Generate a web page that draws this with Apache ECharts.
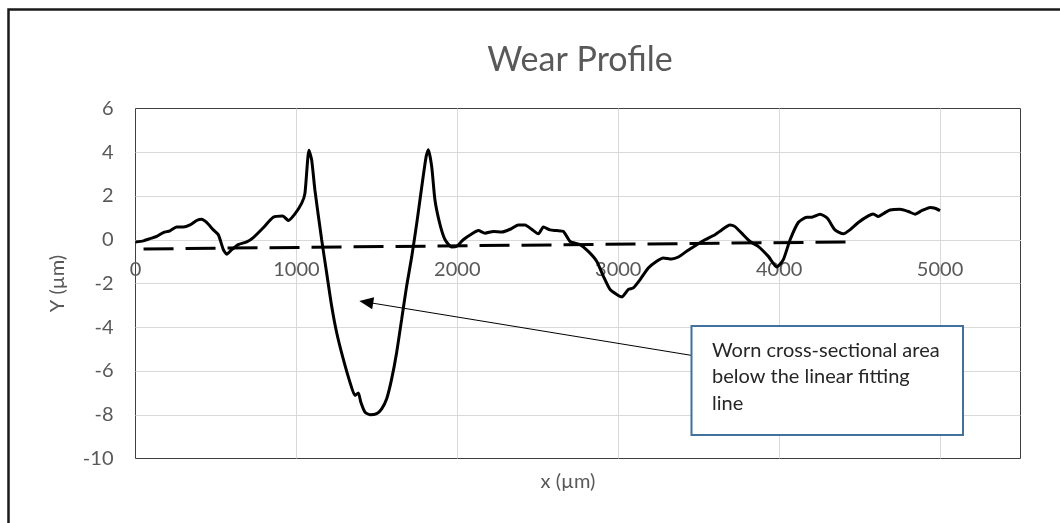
<!DOCTYPE html>
<html>
<head>
<meta charset="utf-8">
<script src="https://cdn.jsdelivr.net/npm/echarts@6/dist/echarts.min.js"></script>
<style>
html,body{margin:0;padding:0;background:#fff;}
#c{width:1060px;height:523px;}
</style>
</head>
<body>
<div id="c"></div>
<script>
// ---- data ----
const titleText = 'Wear Profile';
const xAxisName = 'x (µm)';
const yAxisName = 'Y (µm)';
const noteText = ['Worn cross-sectional area', 'below the linear fitting', 'line'];

const profileX = [0,49,90,132,173,214,256,297,339,380,
  411,442,484,515,546,567,598,639,691,732,
  794,856,915,950,991,1033,1053,1078,1095,1115,
  1157,1188,1219,1250,1291,1333,1364,1385,1400,1426,
  1457,1499,1530,1561,1592,1623,1654,1685,1717,1748,
  1779,1806,1820,1841,1861,1893,1924,1965,1996,2037,
  2089,2131,2172,2224,2276,2328,2379,2421,2462,2504,
  2535,2576,2618,2659,2701,2763,2814,2866,2908,2949,
  2991,3022,3063,3094,3136,3187,3239,3280,3332,3374,
  3425,3488,3539,3601,3643,3694,3726,3767,3819,3870,
  3933,3985,4026,4068,4120,4172,4203,4254,4300,4347,
  4399,4440,4492,4554,4585,4616,4658,4689,4751,4803,
  4845,4886,4938,4969,5000];
const profileY = [-0.1,-0.05,0.05,0.15,0.33,0.41,0.58,0.58,0.68,0.88,
  0.94,0.79,0.45,0.23,-0.45,-0.66,-0.45,-0.22,-0.1,0.1,
  0.55,1.03,1.09,0.88,1.18,1.67,2.12,4.09,3.64,2.27,
  0,-1.52,-3.03,-4.24,-5.45,-6.52,-7.12,-7.0,-7.42,-7.88,
  -8.0,-7.95,-7.73,-7.27,-6.36,-5.15,-3.64,-2.12,-0.76,0.76,
  2.42,3.79,4.12,3.33,1.82,0.68,0,-0.33,-0.3,0,
  0.26,0.42,0.3,0.38,0.35,0.48,0.68,0.68,0.48,0.27,
  0.58,0.45,0.42,0.38,-0.08,-0.23,-0.53,-0.98,-1.67,-2.27,
  -2.5,-2.61,-2.27,-2.2,-1.82,-1.29,-0.98,-0.83,-0.88,-0.79,
  -0.53,-0.23,0,0.23,0.45,0.68,0.6,0.3,-0.08,-0.3,
  -0.76,-1.24,-0.91,0,0.8,1.03,1.03,1.17,0.98,0.45,
  0.27,0.45,0.79,1.09,1.18,1.06,1.24,1.36,1.39,1.29,
  1.17,1.33,1.48,1.44,1.33];

const fitX = [50, 4450];
const fitY = [-0.42, -0.1];

// arrow: from the note box to the worn area (data coordinates)
const arrowFrom = [3467, -5.3];
const arrowTo = [1434, -2.85];

const xTicks = {min: 0, max: 5500, interval: 1000};
const yTicks = {min: -10, max: 6, interval: 2};

// ---- chart ----
const zip = (a, b) => a.map((v, i) => [v, b[i]]);
const FONT = 'Lato, "Liberation Sans", sans-serif';
const GREY = '#595959';

const gridTop = 108.5, gridBottomPx = 458.5;
// x axis crosses the y axis at 0 (Excel style): shift it up from the bottom edge
const zeroPx = gridTop + (yTicks.max - 0) / (yTicks.max - yTicks.min) * (gridBottomPx - gridTop);
const xAxisOffset = -(gridBottomPx - zeroPx);

const chart = echarts.init(document.getElementById('c'), null, {renderer: 'canvas'});
chart.setOption({
  animation: false,
  backgroundColor: '#fff',
  grid: {
    left: 135.5, top: gridTop, right: 39.5, bottom: 523 - gridBottomPx,
    show: true, borderColor: '#404040', borderWidth: 1, backgroundColor: 'transparent'
  },
  xAxis: {
    type: 'value',
    min: xTicks.min, max: xTicks.max, interval: xTicks.interval,
    offset: xAxisOffset,
    axisLine: {show: true, onZero: false, lineStyle: {color: '#d9d9d9', width: 1}},
    axisTick: {show: false},
    axisLabel: {
      color: GREY, fontFamily: FONT, fontSize: 20, margin: 20,
      showMaxLabel: false,
      formatter: v => (v > 5000 ? '' : String(v))
    },
    splitLine: {show: true, showMinLine: false, showMaxLine: false, lineStyle: {color: '#d9d9d9', width: 1}}
  },
  yAxis: {
    type: 'value',
    min: yTicks.min, max: yTicks.max, interval: yTicks.interval,
    name: yAxisName, nameLocation: 'middle', nameGap: 68, nameRotate: 90,
    nameTextStyle: {color: GREY, fontFamily: FONT, fontSize: 20},
    axisLine: {show: false},
    axisTick: {show: false},
    axisLabel: {color: GREY, fontFamily: FONT, fontSize: 20, margin: 22},
    splitLine: {show: true, showMinLine: false, showMaxLine: false, lineStyle: {color: '#d9d9d9', width: 1}}
  },
  series: [
    {
      name: 'Linear fit',
      type: 'line',
      data: zip(fitX, fitY),
      showSymbol: false,
      lineStyle: {color: '#000', width: 3, type: [30, 12]},
      z: 3
    },
    {
      name: 'Profile',
      type: 'line',
      data: zip(profileX, profileY),
      showSymbol: false,
      smooth: 0.2,
      lineStyle: {color: '#000', width: 3},
      z: 4,
      markLine: {
        silent: true,
        animation: false,
        symbol: ['none', 'triangle'],
        symbolSize: [12, 14],
        label: {show: false},
        lineStyle: {color: '#000', width: 1, type: 'solid'},
        data: [[{coord: arrowFrom}, {coord: arrowTo}]]
      }
    }
  ],
  graphic: [
    {
      type: 'rect', silent: true, z: 0,
      shape: {x: 8.5, y: 9.5, width: 1200, height: 800},
      style: {fill: 'none', stroke: '#1a1a1a', lineWidth: 2.5}
    },
    {
      type: 'text', silent: true,
      x: 580, y: 60,
      style: {text: titleText, fill: GREY, font: '34px ' + FONT, align: 'center', verticalAlign: 'middle'}
    },
    {
      type: 'text', silent: true,
      x: 568, y: 482,
      style: {text: xAxisName, fill: GREY, font: '20px ' + FONT, align: 'center', verticalAlign: 'middle'}
    },
    {
      type: 'rect', silent: true, z: 10,
      shape: {x: 691.5, y: 326, width: 271.5, height: 109},
      style: {fill: '#fff', stroke: '#41719C', lineWidth: 2}
    },
    {
      type: 'text', silent: true, z: 11,
      x: 712, y: 337,
      style: {text: noteText.join('\n'), fill: '#262626', font: '20px ' + FONT, lineHeight: 26.5, align: 'left', verticalAlign: 'top'}
    }
  ]
});
</script>
</body>
</html>
